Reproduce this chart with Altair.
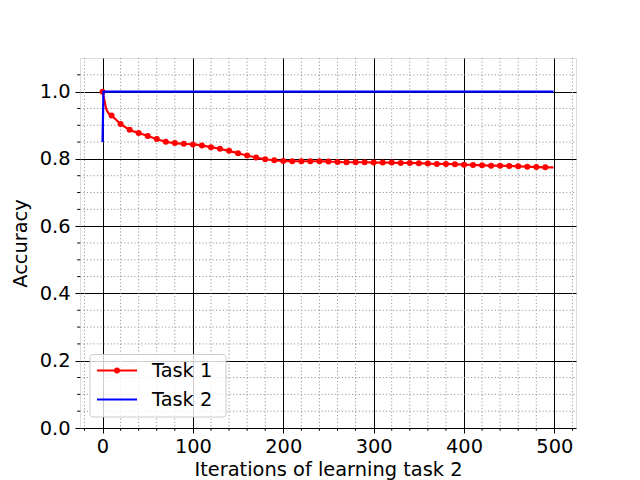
import altair as alt
import pandas as pd

# ---- data ----
t1_iter = [0, 10, 20, 30, 40, 50, 60, 70, 80, 90,
           100, 110, 120, 130, 140, 150, 160, 170, 180, 190,
           200, 210, 220, 230, 240, 250, 260, 270, 280, 290,
           300, 310, 320, 330, 340, 350, 360, 370, 380, 390,
           400, 410, 420, 430, 440, 450, 460, 470, 480, 490]
t1_acc = [1.000, 0.929, 0.904, 0.887, 0.877, 0.868, 0.859, 0.851, 0.847, 0.845,
          0.843, 0.840, 0.835, 0.830, 0.824, 0.817, 0.810, 0.804, 0.799, 0.796,
          0.794, 0.793, 0.793, 0.793, 0.793, 0.792, 0.791, 0.790, 0.790, 0.790,
          0.789, 0.789, 0.789, 0.788, 0.788, 0.787, 0.786, 0.785, 0.785, 0.784,
          0.783, 0.782, 0.781, 0.780, 0.780, 0.779, 0.778, 0.777, 0.776, 0.775]
# unmarked points of the same line (early drop and final iteration)
t1_extra_iter = [2, 4, 7, 499]
t1_extra_acc = [0.975, 0.950, 0.935, 0.775]

t2_iter = [0, 1, 499]
t2_acc = [0.85, 1.0, 1.0]

x_major = [0, 100, 200, 300, 400, 500]
y_major = [0.0, 0.2, 0.4, 0.6, 0.8, 1.0]
x_minor = [-20, 20, 40, 60, 80, 120, 140, 160, 180, 220, 240, 260, 280,
           320, 340, 360, 380, 420, 440, 460, 480, 520]
y_minor = [0.05, 0.1, 0.15, 0.25, 0.3, 0.35, 0.45, 0.5, 0.55, 0.65, 0.7,
           0.75, 0.85, 0.9, 0.95, 1.05]

legend_labels = ["Task 1", "Task 2"]
colors = ["#ff0000", "#0000ff"]

W, H = 496, 370
FONT = "DejaVu Sans"
FS = 19.4

t1_df = pd.DataFrame({"it": t1_iter + t1_extra_iter, "acc": t1_acc + t1_extra_acc}).sort_values("it")
t1_mk = pd.DataFrame({"it": t1_iter, "acc": t1_acc})
t2_df = pd.DataFrame({"it": t2_iter, "acc": t2_acc})
xmin_df = pd.DataFrame({"v": x_minor})
ymin_df = pd.DataFrame({"v": y_minor})

xs = alt.Scale(domain=[-24.95, 523.95], nice=False, zero=False)
ys = alt.Scale(domain=[0, 1.1], nice=False, zero=False)

xaxis = alt.Axis(values=x_major, format="d", grid=True, gridColor="black", gridWidth=1,
                 tickSize=5, tickColor="black", domain=False,
                 labelFont=FONT, labelFontSize=FS, labelColor="black", labelPadding=4,
                 title="Iterations of learning task 2", titleFont=FONT, titleFontSize=FS,
                 titleFontWeight="normal", titleColor="black",
                 titleBaseline="alphabetic", titleY=47)
yaxis = alt.Axis(values=y_major, format=".1f", grid=True, gridColor="black", gridWidth=1,
                 tickSize=5, tickColor="black", domain=False,
                 labelFont=FONT, labelFontSize=FS, labelColor="black", labelPadding=5,
                 title="Accuracy", titleFont=FONT, titleFontSize=FS,
                 titleFontWeight="normal", titleColor="black",
                 titleBaseline="alphabetic", titleX=-54, titleY=H / 2, titleAngle=270,
                 titleAlign="center")

# minor grid
minor_x = alt.Chart(xmin_df).mark_rule(color="#999999", strokeDash=[1.2, 2.2], strokeWidth=1).encode(
    x=alt.X("v:Q", scale=xs, axis=xaxis), y=alt.value(0), y2=alt.value(H))
minor_y = alt.Chart(ymin_df).mark_rule(color="#999999", strokeDash=[1.2, 2.2], strokeWidth=1).encode(
    y=alt.Y("v:Q", scale=ys, axis=yaxis), x=alt.value(0), x2=alt.value(W))
# minor ticks
minor_xt = alt.Chart(xmin_df).mark_rule(color="black", strokeWidth=1).encode(
    x=alt.X("v:Q", scale=xs), y=alt.value(H), y2=alt.value(H + 2.8))
minor_yt = alt.Chart(ymin_df).mark_rule(color="black", strokeWidth=1).encode(
    y=alt.Y("v:Q", scale=ys), x=alt.value(0), x2=alt.value(-2.8))

line1 = alt.Chart(t1_df).mark_line(color=colors[0], strokeWidth=2.2, interpolate="monotone").encode(
    x=alt.X("it:Q", scale=xs), y=alt.Y("acc:Q", scale=ys), order="it:Q")
pts1 = alt.Chart(t1_mk).mark_circle(color=colors[0], size=36, opacity=1).encode(
    x=alt.X("it:Q", scale=xs), y=alt.Y("acc:Q", scale=ys))
line2 = alt.Chart(t2_df).mark_line(color=colors[1], strokeWidth=2.2).encode(
    x=alt.X("it:Q", scale=xs), y=alt.Y("acc:Q", scale=ys))

# legend (drawn by hand, matplotlib style)
one = pd.DataFrame({"k": [0]})
box = alt.Chart(one).mark_rect(fill="white", fillOpacity=0.8, stroke="#cccccc", strokeWidth=1,
                               cornerRadius=3).encode(
    x=alt.value(10), x2=alt.value(146), y=alt.value(296.5), y2=alt.value(359))
lg1 = alt.Chart(one).mark_rule(color=colors[0], strokeWidth=2.2).encode(
    x=alt.value(17), x2=alt.value(57), y=alt.value(312.5))
lg1p = alt.Chart(one).mark_circle(color=colors[0], size=36, opacity=1).encode(
    x=alt.value(37), y=alt.value(312.5))
lg2 = alt.Chart(one).mark_rule(color=colors[1], strokeWidth=2.2).encode(
    x=alt.value(17), x2=alt.value(57), y=alt.value(341.5))
lt1 = alt.Chart(one).mark_text(text=legend_labels[0], font=FONT, fontSize=FS, align="left",
                               baseline="middle", color="black").encode(
    x=alt.value(72), y=alt.value(312.5))
lt2 = alt.Chart(one).mark_text(text=legend_labels[1], font=FONT, fontSize=FS, align="left",
                               baseline="middle", color="black").encode(
    x=alt.value(72), y=alt.value(341.5))

chart = alt.layer(minor_x, minor_y, minor_xt, minor_yt, line1, pts1, line2,
                  box, lg1, lg1p, lg2, lt1, lt2).properties(
    width=W, height=H,
    autosize=alt.AutoSizeParams(type="none"),
    padding={"left": 72, "top": 50, "right": 56, "bottom": 52},
).configure_view(stroke="black", strokeWidth=1).configure(background="white")

chart.save("out.html", embed_options={"renderer": "svg", "actions": False})
